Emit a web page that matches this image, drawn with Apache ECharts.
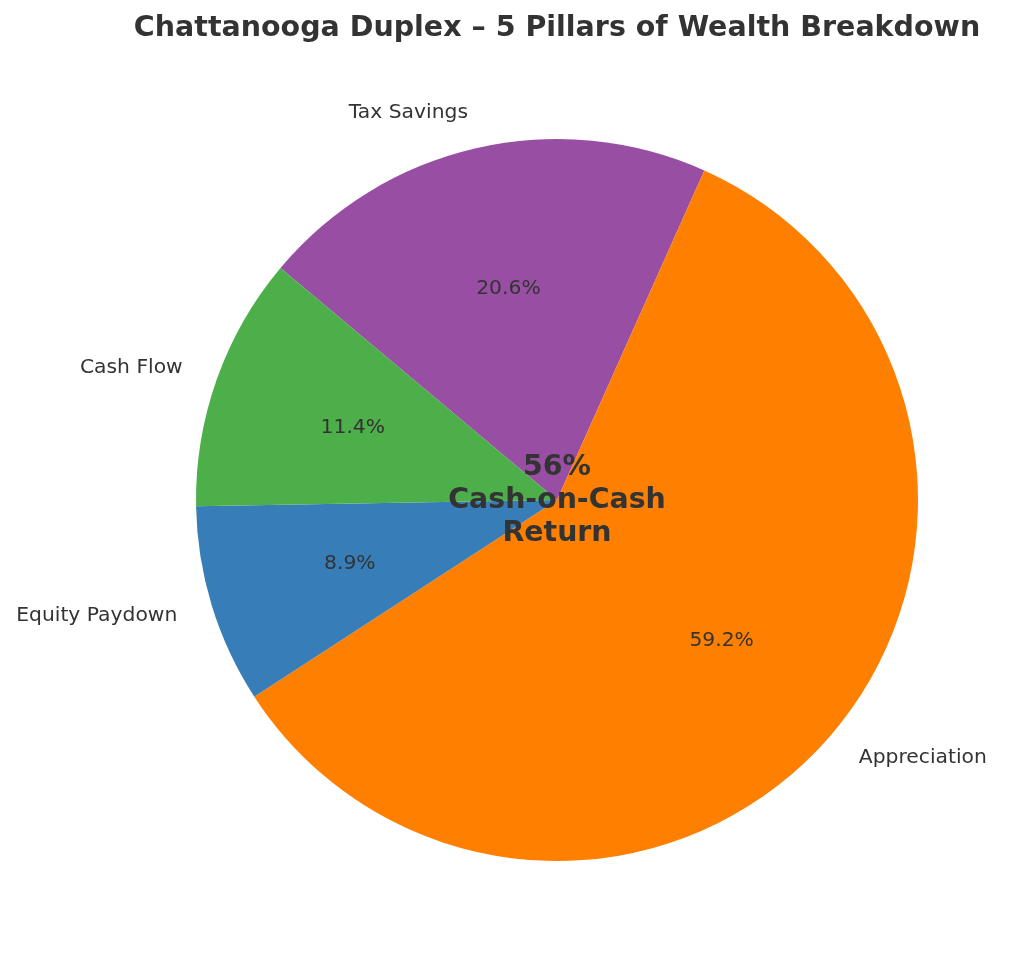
<!DOCTYPE html>
<html>
<head>
<meta charset="utf-8">
<script src="https://cdn.jsdelivr.net/npm/echarts@6/dist/echarts.min.js"></script>
<style>
  html, body { margin: 0; padding: 0; background: #ffffff; }
  #chart { width: 1024px; height: 967px; }
</style>
</head>
<body>
<div id="chart"></div>
<script>
// Data (clockwise from the Tax Savings / Cash Flow boundary)
const categories = ['Tax Savings', 'Appreciation', 'Equity Paydown', 'Cash Flow'];
const values = [20.6, 59.2, 8.9, 11.4];
const titleText = 'Chattanooga Duplex \u2013 5 Pillars of Wealth Breakdown';
const centerLines = ['56%', 'Cash-on-Cash', 'Return'];

const FONT = 'DejaVu Sans';
const CX = 557, CY = 500, R = 361;

const pieData = categories.map((c, i) => ({ name: c, value: values[i] }));

const chart = echarts.init(document.getElementById('chart'), null, { renderer: 'canvas' });
chart.setOption({
  backgroundColor: '#ffffff',
  animation: false,
  color: ['#984ea3', '#ff7f00', '#377eb8', '#4daf4a'],
  series: [
    {
      // visible pie with outer category labels at 1.1R
      type: 'pie',
      center: [CX, CY],
      radius: [0, R],
      startAngle: 140,
      clockwise: true,
      avoidLabelOverlap: false,
      silent: true,
      itemStyle: { borderWidth: 0 },
      label: {
        show: true,
        position: 'outside',
        formatter: '{b}',
        fontFamily: FONT,
        fontSize: 20.3,
        color: '#333333',
        distanceToLabelLine: 0
      },
      labelLine: { show: false, length: 0.1 * R, length2: 0 },
      data: pieData
    },
    {
      // transparent overlay for percentage labels at 0.6R
      type: 'pie',
      center: [CX, CY],
      radius: [0, 2 * (0.6 * R - 3)],
      startAngle: 140,
      clockwise: true,
      avoidLabelOverlap: false,
      silent: true,
      itemStyle: { color: 'rgba(0,0,0,0)', borderWidth: 0 },
      label: {
        show: true,
        position: 'inside',
        formatter: (p) => p.value.toFixed(1) + '%',
        fontFamily: FONT,
        fontSize: 20.3,
        color: '#333333'
      },
      labelLine: { show: false },
      data: pieData
    }
  ],
  graphic: [
    {
      type: 'text',
      x: CX, y: 28.5,
      z: 100,
      style: {
        text: titleText,
        fontFamily: FONT,
        fontSize: 28.5,
        fontWeight: 'bold',
        fill: '#333333',
        align: 'center',
        verticalAlign: 'middle'
      }
    },
    {
      type: 'text',
      x: CX, y: CY + 1,
      z: 100,
      style: {
        text: centerLines.join('\n'),
        fontFamily: FONT,
        fontSize: 28.4,
        fontWeight: 'bold',
        lineHeight: 33,
        fill: '#333333',
        align: 'center',
        verticalAlign: 'middle'
      }
    }
  ]
});
</script>
</body>
</html>
